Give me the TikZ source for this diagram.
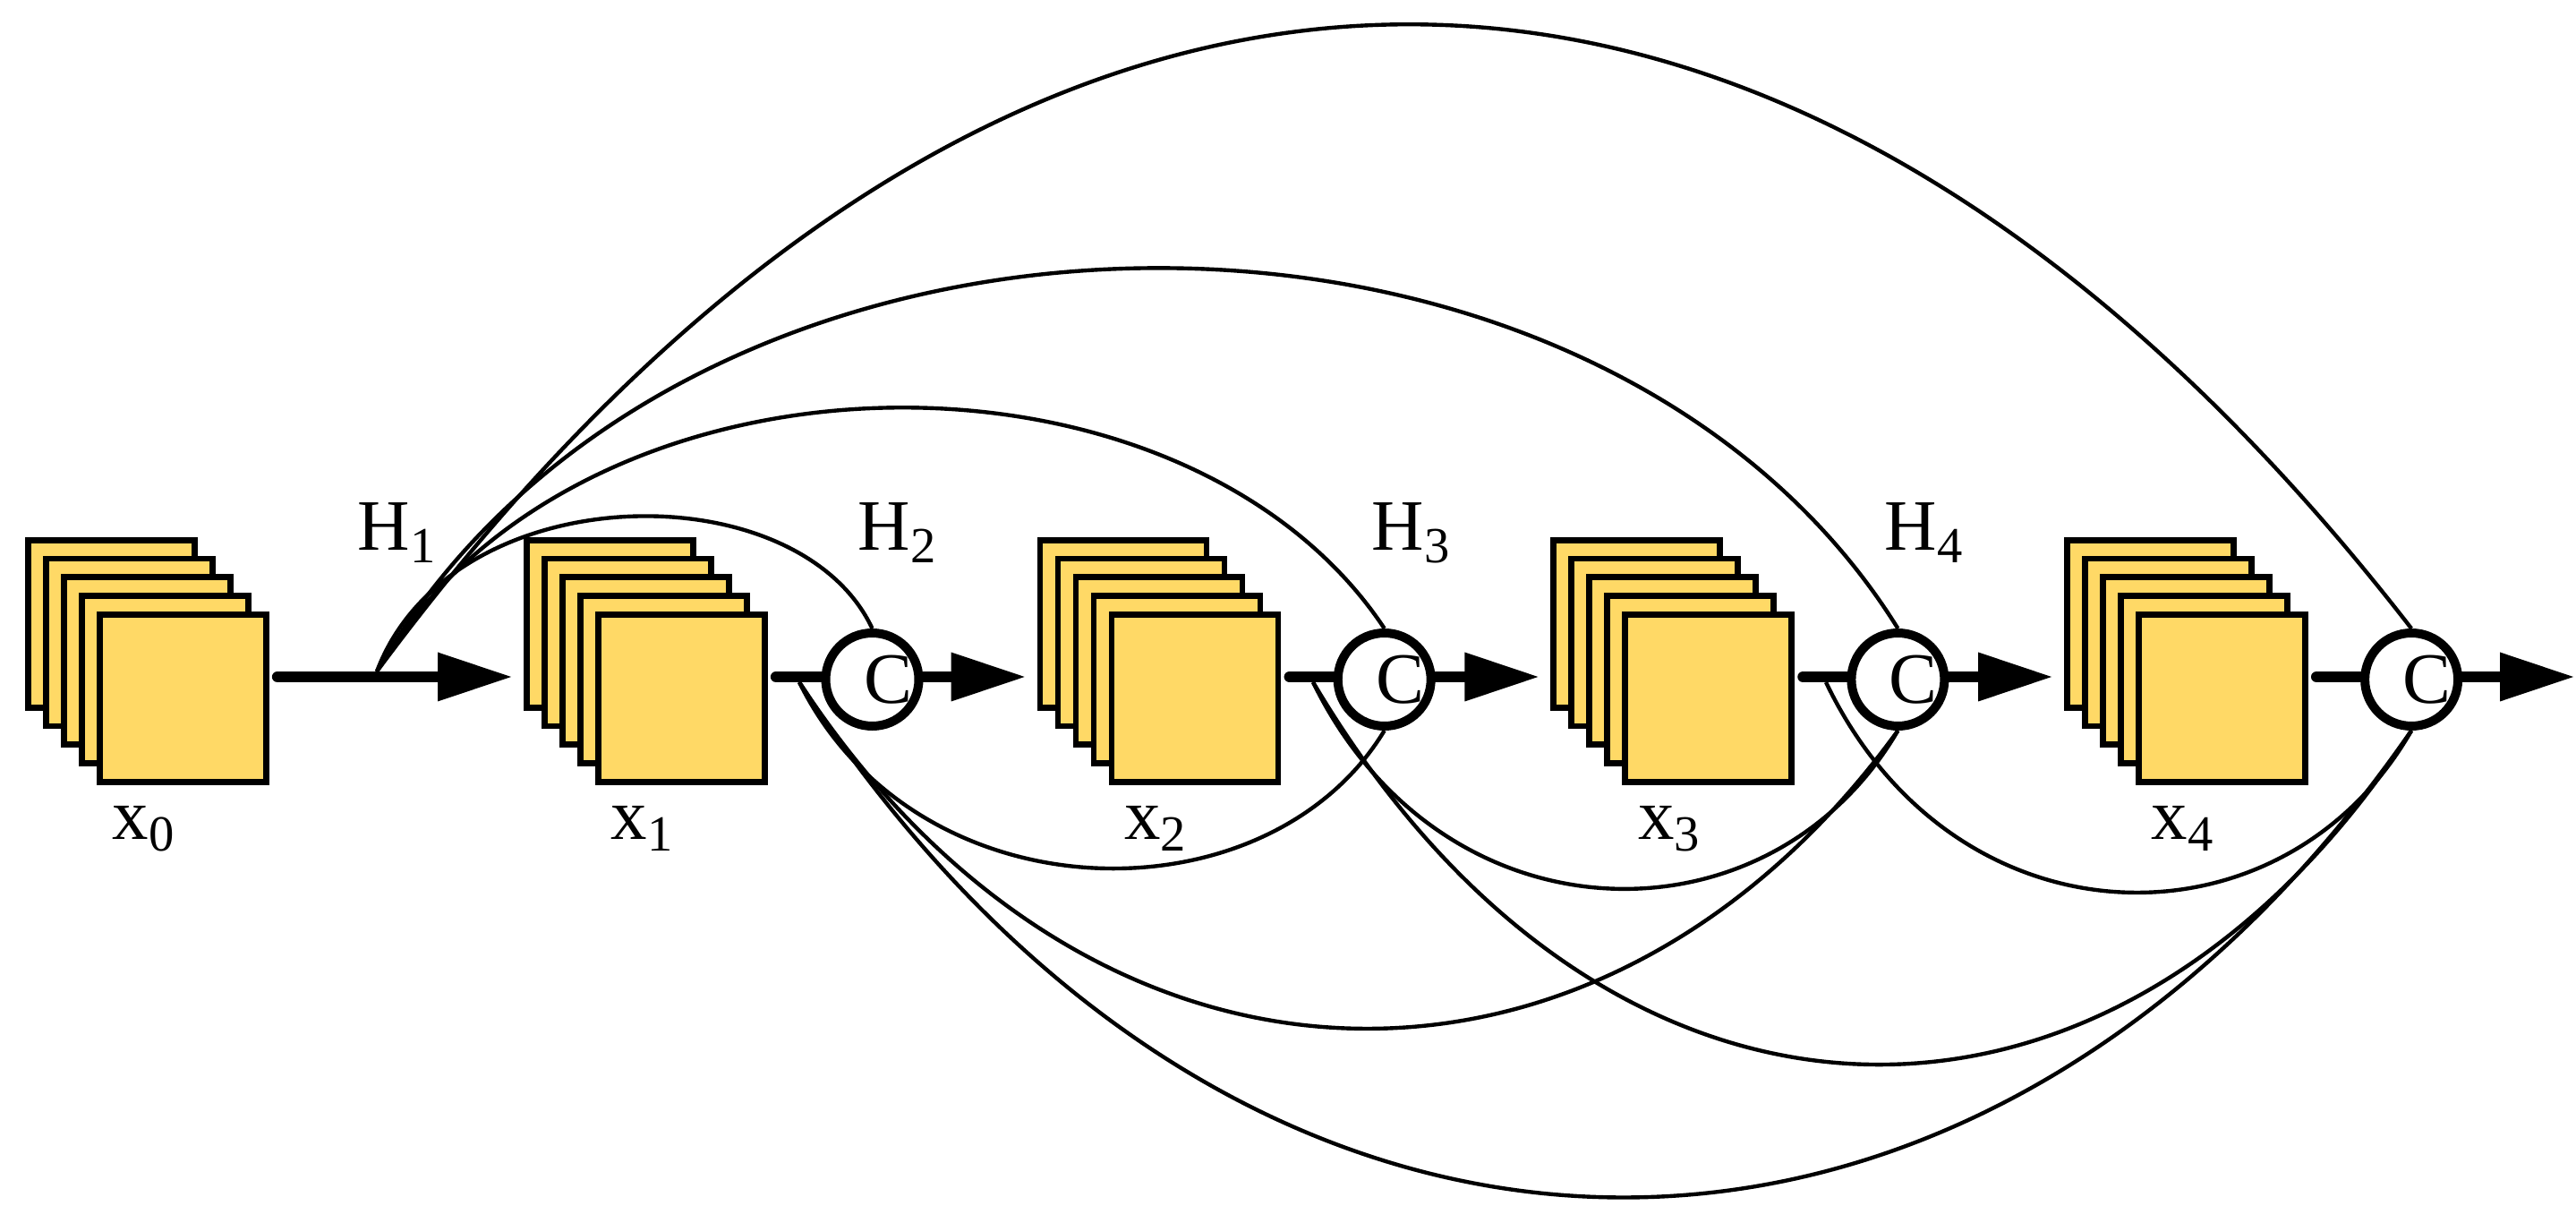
\documentclass[tikz,border=0pt]{standalone}
\usepackage{fontspec}
\setmainfont{Liberation Serif}
\usepackage{xcolor}
\usepackage{tikz}
\usetikzlibrary{arrows.meta}
\definecolor{fmap}{HTML}{FFD966}

\begin{document}
\begin{tikzpicture}[
  fmap/.style={rectangle,draw,fill=fmap,line width=1.9pt,inner sep=0pt,
    minimum width=1.86cm,minimum height=1.87cm,anchor=north west},
  flow/.style={line width=3.5pt,line cap=round,
    -{Triangle[length=8.2mm,width=5.5mm,line width=0pt]}},
  cat/.style={circle,draw,fill=white,line width=2.85pt,inner sep=0pt,minimum size=10.4mm},
  link/.style={line width=1.25pt},
  lbl/.style={font=\fontsize{23}{27}\selectfont,anchor=base}]
\useasboundingbox (0,0) rectangle (28.78,13.65);
% feature map stacks
\foreach \i/\x in {0/1.08,1/6.65,2/12.387,3/18.124,4/23.861} {
  \foreach \k in {0,...,4}
    \node[fmap] (m\i\k) at (\x-0.8+0.2*\k,7.65-0.2075*\k) {};
  \node[lbl] (x\i) at (\x+0.53,4.28) {x\textsubscript{\i}};
  \coordinate (o\i) at (\x+2.02,6.09);
  \coordinate (t\i) at (\x-0.94,6.09);
}
\coordinate (t5) at (28.75,6.09);
\foreach \i [evaluate=\i as \j using int(\i+1)] in {0,...,4}
  \draw[flow] (o\i) -- (t\j);
% concatenation
\foreach \i/\x in {1/9.745,2/15.467,3/21.204,4/26.941}
  \node[cat,label={[name=cl\i,font=\fontsize{23}{27}\selectfont,xshift=1.75mm]center:C}] (c\i) at (\x,6.06) {};
\foreach \i/\x in {1/4.44,2/10.03,3/15.77,4/21.50}
  \node[lbl] (h\i) at (\x,7.5) {H\textsubscript{\i}};
% dense connections
\coordinate (s0) at (4.21,6.15);
\foreach \i/\x in {1/8.93,2/14.67,3/20.40}
  \coordinate (s\i) at (\x,6.03);
\draw[link] (s0) .. controls +(0.83,2.2) and +(-0.83,1.77) .. (c1.north);
\draw[link] (s0) .. controls +(2.25,3.82) and +(-2.25,3.39) .. (c2.north);
\draw[link] (s0) .. controls +(3.4,5.9) and +(-3.4,5.47) .. (c3.north);
\draw[link] (s0) .. controls +(7.05,9.53) and +(-7.05,9.10) .. (c4.north);
\draw[link] (s1) .. controls +(1.31,-2.65) and +(-1.31,-2.16) .. (c2.south);
\draw[link] (s2) .. controls +(1.44,-2.95) and +(-1.44,-2.47) .. (c3.south);
\draw[link] (s3) .. controls +(1.44,-3.01) and +(-1.44,-2.52) .. (c4.south);
\draw[link] (s1) .. controls +(3.3,-5.04) and +(-3.3,-4.55) .. (c3.south);
\draw[link] (s2) .. controls +(3.3,-5.57) and +(-3.3,-5.09) .. (c4.south);
\draw[link] (s1) .. controls +(4.9,-7.55) and +(-4.9,-7.07) .. (c4.south);
\end{tikzpicture}
\end{document}
